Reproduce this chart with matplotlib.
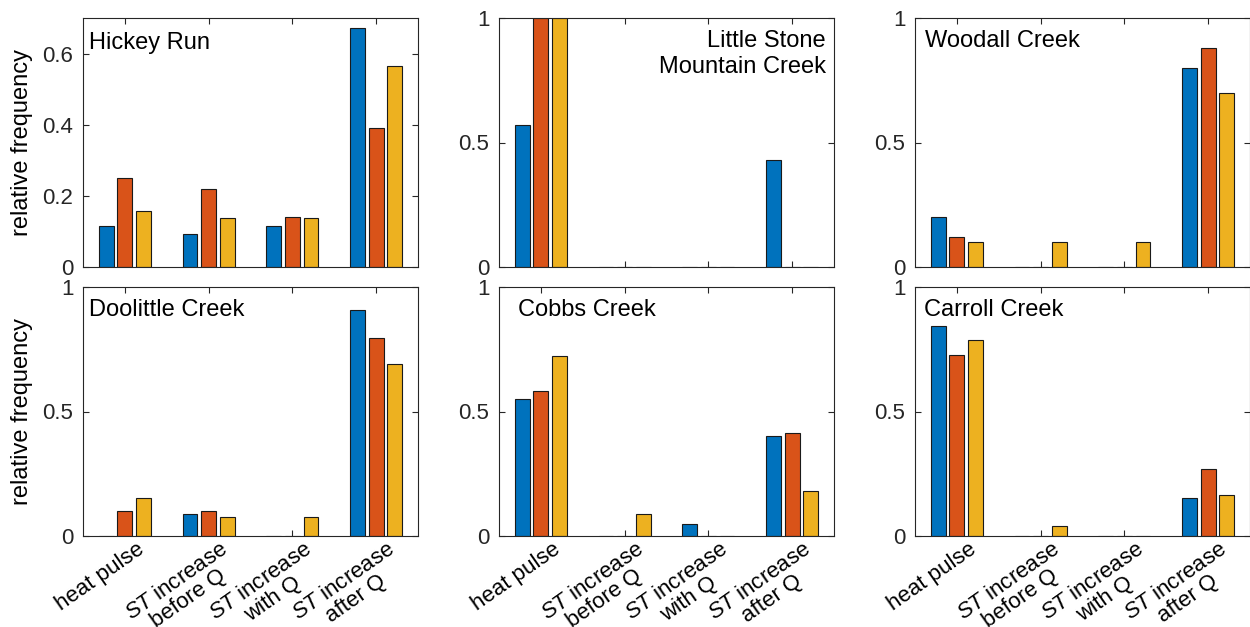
import numpy as np
import matplotlib as mpl
mpl.use("Agg")
import matplotlib.pyplot as plt
from matplotlib.transforms import ScaledTranslation

# ---------------- data ----------------
categories = ["heat pulse",
              "$\\mathit{ST}$ increase\nbefore Q",
              "$\\mathit{ST}$ increase\nwith Q",
              "$\\mathit{ST}$ increase\nafter Q"]

# rows: blue, orange, yellow series; columns: categories
hickey_run = [[0.116, 0.093, 0.116, 0.672],
              [0.250, 0.219, 0.140, 0.390],
              [0.157, 0.137, 0.137, 0.565]]
little_stone = [[0.571, 0.0, 0.0, 0.429],
                [1.0, 0.0, 0.0, 0.0],
                [1.0, 0.0, 0.0, 0.0]]
woodall = [[0.20, 0.0, 0.0, 0.80],
           [0.12, 0.0, 0.0, 0.88],
           [0.10, 0.10, 0.10, 0.70]]
doolittle = [[0.0, 0.090, 0.0, 0.906],
             [0.100, 0.100, 0.0, 0.797],
             [0.154, 0.077, 0.077, 0.690]]
cobbs = [[0.549, 0.0, 0.050, 0.400],
         [0.582, 0.0, 0.0, 0.415],
         [0.724, 0.090, 0.0, 0.180]]
carroll = [[0.843, 0.0, 0.0, 0.154],
           [0.728, 0.0, 0.0, 0.268],
           [0.789, 0.040, 0.0, 0.166]]

site_names = ["Hickey Run", "Little Stone\nMountain Creek", "Woodall Creek",
              "Doolittle Creek", "Cobbs Creek", "Carroll Creek"]
site_data = [hickey_run, little_stone, woodall, doolittle, cobbs, carroll]
ylims = [0.7, 1, 1, 1, 1, 1]
yticks = [[0, 0.2, 0.4, 0.6], [0, 0.5, 1], [0, 0.5, 1],
          [0, 0.5, 1], [0, 0.5, 1], [0, 0.5, 1]]
ytick_labels = [["0", "0.2", "0.4", "0.6"], ["0", "0.5", "1"], ["0", "0.5", "1"],
                ["0", "0.5", "1"], ["0", "0.5", "1"], ["0", "0.5", "1"]]

colors = ["#0072BD", "#D95319", "#EDB120"]

# ---------------- settings ----------------
W, H = 1250, 627
dpi = 100
ink = "#262626"

mpl.rcParams.update({
    "font.family": ["Liberation Sans", "DejaVu Sans"],
    "mathtext.fontset": "custom",
    "mathtext.it": "Liberation Sans:italic",
    "mathtext.rm": "Liberation Sans",
    "axes.edgecolor": ink,
    "axes.linewidth": 0.8,
    "xtick.color": ink,
    "ytick.color": ink,
})

fig = plt.figure(figsize=(W / dpi, H / dpi), dpi=dpi)

# axes boxes in pixels: (left, top)
lefts = [83, 499, 915]
tops = [18, 287]
aw, ah = 335, 249

# title placement (x frac, y frac, ha)
title_pos = [(0.018, 0.945, "left"), (0.976, 0.95, "right"), (0.03, 0.95, "left"),
             (0.018, 0.95, "left"), (0.057, 0.95, "left"), (0.027, 0.95, "left")]

x = np.arange(1, 5)
offset = 0.222
bw = 0.178

for i, (name, data) in enumerate(zip(site_names, site_data)):
    r, c = divmod(i, 3)
    ax = fig.add_axes([lefts[c] / W, 1 - (tops[r] + ah) / H, aw / W, ah / H])
    for k in range(3):
        ax.bar(x + (k - 1) * offset, data[k], width=bw, color=colors[k],
               edgecolor="#1a1a1a", linewidth=0.8, zorder=2)
    ax.set_xlim(0.5, 4.5)
    ax.set_ylim(0, ylims[i])
    ax.set_yticks(yticks[i])
    ax.set_yticklabels(ytick_labels[i], fontsize=16, color=ink)
    ax.set_xticks(x)
    ax.tick_params(direction="in", length=4, width=0.8, top=True, right=True)
    ax.tick_params(axis="y", pad=7)
    if r == 1:
        ax.set_xticklabels(categories, fontsize=16, color="black")
        shift = ScaledTranslation(11 / dpi, 2 / dpi, fig.dpi_scale_trans)
        for lab in ax.get_xticklabels():
            lab.set_rotation(35)
            lab.set_rotation_mode("anchor")
            lab.set_ha("right")
            lab.set_va("top")
            lab.set_multialignment("center")
            lab.set_linespacing(1.0)
            lab.set_transform(lab.get_transform() + shift)
    else:
        ax.set_xticklabels([])
    if c == 0:
        ax.set_ylabel("relative frequency", fontsize=17)
        ax.yaxis.set_label_coords(-0.15, 0.5)
    tx, ty, tha = title_pos[i]
    ax.text(tx, ty, name, transform=ax.transAxes, ha=tha, va="top",
            fontsize=17, multialignment="right", zorder=3)

fig.savefig("out.png", dpi=dpi)
